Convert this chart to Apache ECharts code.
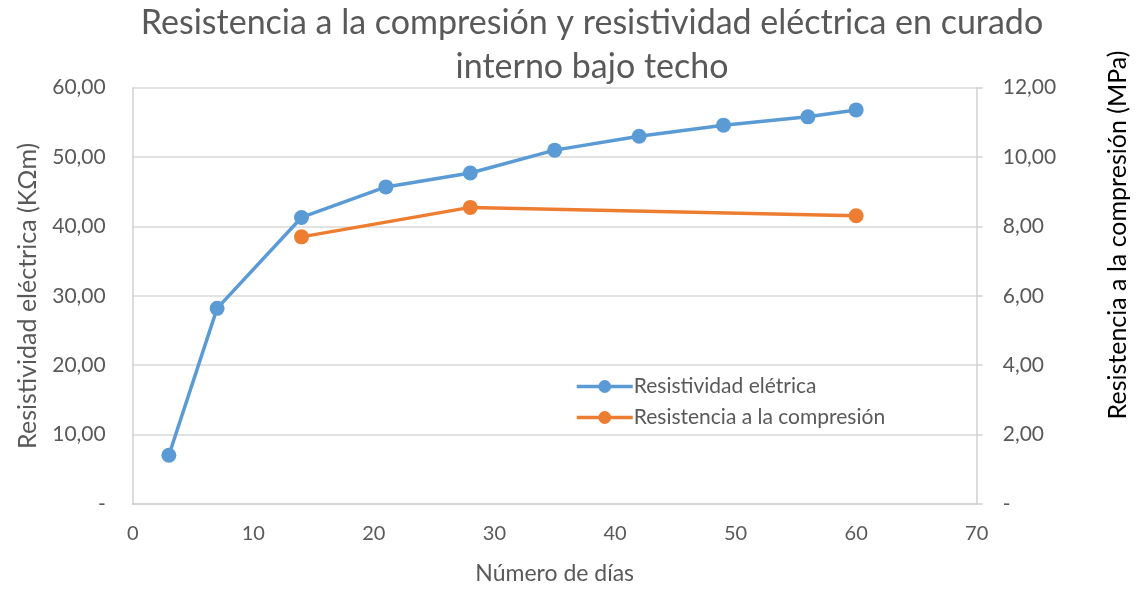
<!DOCTYPE html>
<html>
<head>
<meta charset="utf-8">
<script src="https://cdn.jsdelivr.net/npm/echarts@6/dist/echarts.min.js"></script>
<style>
  html, body { margin: 0; padding: 0; background: #fff; }
  #chart { width: 1138px; height: 590px; }
</style>
</head>
<body>
<div id="chart"></div>
<script>
// Días de ensayo y mediciones
const diasResistividad = [3, 7, 14, 21, 28, 35, 42, 49, 56, 60];
const resistividad = [7.03, 28.2, 41.3, 45.7, 47.7, 51.0, 53.0, 54.6, 55.8, 56.8];
const diasCompresion = [14, 28, 60];
const compresion = [7.70, 8.55, 8.31];

const tituloTexto = 'Resistencia a la compresión y resistividad eléctrica en curado\ninterno bajo techo';
const nombreSerie1 = 'Resistividad elétrica';
const nombreSerie2 = 'Resistencia a la compresión';
const nombreEjeX = 'Número de días';
const nombreEjeIzq = 'Resistividad eléctrica (KΩm)';
const nombreEjeDer = 'Resistencia a la compresión (MPa)';

const FONT = 'Lato, "Open Sans", sans-serif';
const GRIS = '#595959';

function formatoNum(v) {
  if (v === 0) return '-';
  return v.toFixed(2).replace('.', ',');
}

const chart = echarts.init(document.getElementById('chart'));
chart.setOption({
  backgroundColor: '#fff',
  animation: false,
  textStyle: { fontFamily: FONT },
  title: {
    text: tituloTexto,
    left: 587,
    top: -4,
    textAlign: 'center',
    textStyle: { fontFamily: FONT, fontSize: 34, fontWeight: 'normal', color: GRIS, lineHeight: 44 }
  },
  legend: {
    orient: 'vertical',
    left: 570,
    top: 371,
    itemWidth: 56,
    itemHeight: 16,
    itemGap: 10,
    lineStyle: { width: 3.5 },
    textStyle: { fontFamily: FONT, fontSize: 21, color: GRIS, padding: [0, 0, 0, -4] },
    data: [nombreSerie1, nombreSerie2]
  },
  graphic: [
    {
      // título del eje secundario, desplazado hacia arriba
      type: 'text',
      x: 1118,
      y: 235,
      rotation: Math.PI / 2,
      style: {
        text: nombreEjeDer,
        fontFamily: FONT,
        fontSize: 25,
        fill: '#000',
        align: 'center',
        verticalAlign: 'middle'
      }
    }
  ],
  grid: { left: 132.7, right: 161.3, top: 87.7, bottom: 77, containLabel: false },
  xAxis: {
    type: 'value',
    min: 0, max: 70, interval: 10,
    name: nombreEjeX,
    nameLocation: 'middle',
    nameGap: 58,
    nameTextStyle: { fontFamily: FONT, fontSize: 23, color: GRIS },
    axisLine: { show: true, lineStyle: { color: '#d0d0d0', width: 1.5 } },
    axisTick: { show: false },
    axisLabel: { fontFamily: FONT, fontSize: 20, color: GRIS, margin: 20 },
    splitLine: { show: false }
  },
  yAxis: [
    {
      type: 'value',
      min: 0, max: 60, interval: 10,
      position: 'left',
      name: nombreEjeIzq,
      nameLocation: 'middle',
      nameGap: 92,
      nameTextStyle: { fontFamily: FONT, fontSize: 25, color: GRIS },
      axisLine: { show: true, lineStyle: { color: '#d0d0d0', width: 1.5 } },
      axisTick: { show: false },
      axisLabel: { fontFamily: FONT, fontSize: 21, color: GRIS, margin: 27, formatter: formatoNum },
      splitLine: { show: true, lineStyle: { color: '#d9d9d9', width: 1.5 } }
    },
    {
      type: 'value',
      min: 0, max: 12, interval: 2,
      position: 'right',
      axisLine: { show: true, lineStyle: { color: '#d0d0d0', width: 1.5 } },
      axisTick: { show: true, length: 6, inside: false, lineStyle: { color: '#d0d0d0', width: 1.5 } },
      axisLabel: { fontFamily: FONT, fontSize: 21, color: GRIS, margin: 26, formatter: formatoNum },
      splitLine: { show: false }
    }
  ],
  series: [
    {
      name: nombreSerie1,
      type: 'line',
      yAxisIndex: 0,
      data: diasResistividad.map((d, i) => [d, resistividad[i]]),
      symbol: 'circle',
      symbolSize: 15,
      lineStyle: { color: '#5B9BD5', width: 3.5 },
      itemStyle: { color: '#5B9BD5' },
      z: 3
    },
    {
      name: nombreSerie2,
      type: 'line',
      yAxisIndex: 1,
      data: diasCompresion.map((d, i) => [d, compresion[i]]),
      symbol: 'circle',
      symbolSize: 15,
      lineStyle: { color: '#ED7D31', width: 3.5 },
      itemStyle: { color: '#ED7D31' },
      z: 2
    }
  ]
});
</script>
</body>
</html>
